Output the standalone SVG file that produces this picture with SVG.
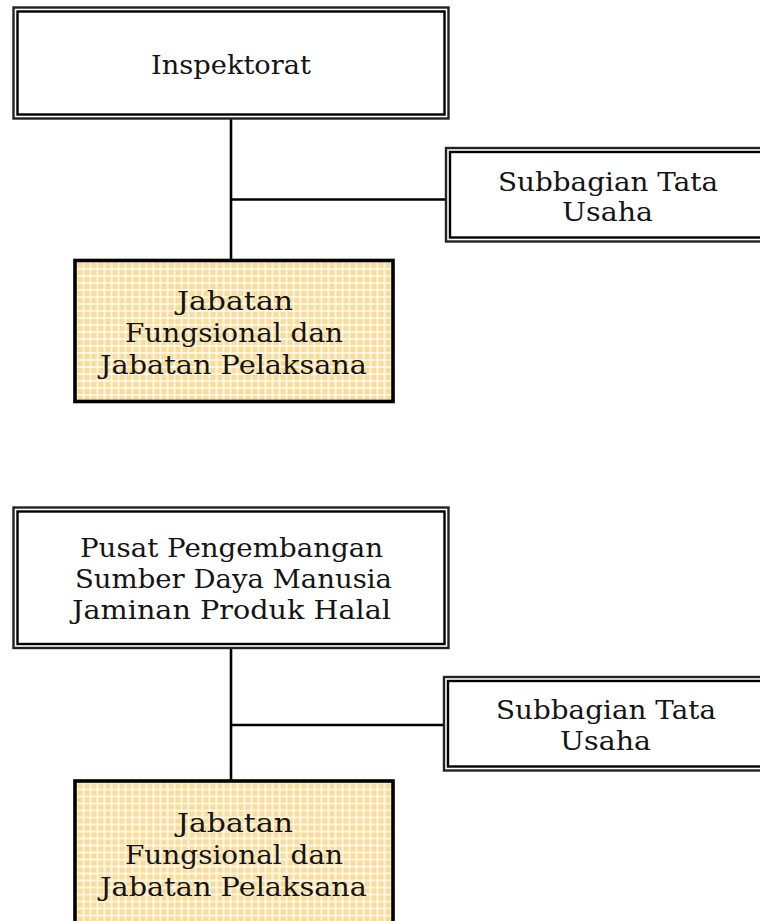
<svg xmlns="http://www.w3.org/2000/svg" width="760" height="921" viewBox="0 0 760 921">
  <defs>
    <!-- light yellow grid fill for the functional-staff boxes -->
    <pattern id="grid" x="76.5" y="262" width="7" height="7" patternUnits="userSpaceOnUse">
      <rect width="7" height="7" fill="#ffffff"/>
      <rect x="0.7" y="0.7" width="5.6" height="5.6" fill="#f9dc98"/>
    </pattern>
    <pattern id="grid2" x="76.5" y="782.5" width="7" height="7" patternUnits="userSpaceOnUse">
      <rect width="7" height="7" fill="#ffffff"/>
      <rect x="0.7" y="0.7" width="5.6" height="5.6" fill="#f9dc98"/>
    </pattern>
  </defs>
  <style>
    .outer { fill: #ffffff; stroke: #222222; stroke-width: 2.4; }
    .inner { fill: none; stroke: #000000; stroke-width: 2.4; }
    .staff { stroke: #000000; stroke-width: 3.6; }
    .conn { stroke: #000000; stroke-width: 2.6; fill: none; }
    text { font-family: "DejaVu Serif", "Liberation Serif", serif; font-size: 26.5px; fill: #141414; text-anchor: middle; }
  </style>
  <rect width="760" height="921" fill="#ffffff"/>

  <!-- connectors -->
  <g id="connectors">
    <line class="conn" x1="231" y1="118" x2="231" y2="260"/>
    <line class="conn" x1="231" y1="199.5" x2="447" y2="199.5"/>
    <line class="conn" x1="231" y1="648" x2="231" y2="781"/>
    <line class="conn" x1="231" y1="725" x2="445" y2="725"/>
  </g>

  <!-- upper chart -->
  <g id="inspektorat">
    <rect class="outer" x="13.5" y="7.5" width="435" height="111"/>
    <rect class="inner" x="17.5" y="11.5" width="427" height="103"/>
    <text x="231" y="74" textLength="160" lengthAdjust="spacingAndGlyphs">Inspektorat</text>
  </g>

  <g id="subbagian-tu-1">
    <rect class="outer" x="446" y="148" width="330" height="93.5"/>
    <rect class="inner" x="450" y="152" width="330" height="85.5"/>
    <text x="608" y="191" textLength="220" lengthAdjust="spacingAndGlyphs">Subbagian Tata</text>
    <text x="607.5" y="221" textLength="91" lengthAdjust="spacingAndGlyphs">Usaha</text>
  </g>

  <g id="jabatan-1">
    <rect class="staff" x="75" y="260.5" width="318" height="141" fill="url(#grid)"/>
    <text x="235" y="310" textLength="116" lengthAdjust="spacingAndGlyphs">Jabatan</text>
    <text x="234" y="342" textLength="218" lengthAdjust="spacingAndGlyphs">Fungsional dan</text>
    <text x="233.5" y="374" textLength="267" lengthAdjust="spacingAndGlyphs">Jabatan Pelaksana</text>
  </g>

  <!-- lower chart -->
  <g id="pusat-sdm-jph">
    <rect class="outer" x="13.5" y="507.5" width="435" height="140.5"/>
    <rect class="inner" x="17.5" y="511.5" width="427" height="132.5"/>
    <text x="231.5" y="557" textLength="303" lengthAdjust="spacingAndGlyphs">Pusat Pengembangan</text>
    <text x="233.5" y="588" textLength="317" lengthAdjust="spacingAndGlyphs">Sumber Daya Manusia</text>
    <text x="231.5" y="619" textLength="319" lengthAdjust="spacingAndGlyphs">Jaminan Produk Halal</text>
  </g>

  <g id="subbagian-tu-2">
    <rect class="outer" x="444" y="677" width="330" height="93.5"/>
    <rect class="inner" x="448" y="681" width="330" height="85.5"/>
    <text x="606" y="719" textLength="220" lengthAdjust="spacingAndGlyphs">Subbagian Tata</text>
    <text x="605.5" y="750" textLength="91" lengthAdjust="spacingAndGlyphs">Usaha</text>
  </g>

  <g id="jabatan-2">
    <rect class="staff" x="75" y="781" width="318" height="170" fill="url(#grid2)"/>
    <text x="235" y="832" textLength="116" lengthAdjust="spacingAndGlyphs">Jabatan</text>
    <text x="234" y="864" textLength="218" lengthAdjust="spacingAndGlyphs">Fungsional dan</text>
    <text x="233.5" y="896" textLength="267" lengthAdjust="spacingAndGlyphs">Jabatan Pelaksana</text>
  </g>
</svg>
